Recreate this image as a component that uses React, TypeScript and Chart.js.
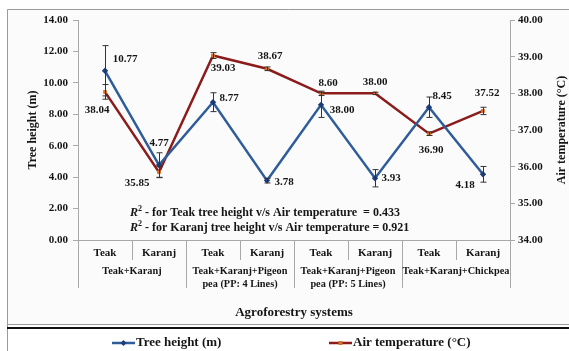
import React, { useEffect, useRef } from "react";
import { Chart, registerables } from "chart.js";

Chart.register(...registerables);

// ---- data ----
const species = ["Teak", "Karanj", "Teak", "Karanj", "Teak", "Karanj", "Teak", "Karanj"];
const systemLabels: string[][] = [
  ["Teak+Karanj"],
  ["Teak+Karanj+Pigeon", "pea (PP: 4 Lines)"],
  ["Teak+Karanj+Pigeon", "pea (PP: 5 Lines)"],
  ["Teak+Karanj+Chickpea"],
];
const treeHeight = [10.77, 4.77, 8.77, 3.78, 8.6, 3.93, 8.45, 4.18];
const treeHeightErr = [1.6, 0.78, 0.6, 0.15, 0.8, 0.55, 0.65, 0.5];
const airTemp = [38.04, 35.85, 39.03, 38.67, 38.0, 38.0, 36.9, 37.52];
const airTempErr = [0.2, 0.15, 0.08, 0.05, 0.06, 0.03, 0.05, 0.1];
const heightTicks = { min: 0, max: 14, step: 2 };
const tempTicks = { min: 34, max: 40, step: 1 };
const rSquaredTeak = 0.433;
const rSquaredKaranj = 0.921;

// label placement around each point (pixels)
const treeLabelOffsets = [[20, -12], [0, -22], [16, -4], [17, 2], [7, -22], [16, 0], [13, -11], [-18, 11]];
const tempLabelOffsets = [[-8, 18], [-22, 11], [10, 13], [3, -13], [21, 17], [0, -11], [2, 16], [4, -18]];

const SERIF = "'Liberation Serif', 'Times New Roman', serif";
const BLUE = "#2f5d99";
const BLUE_PT = "#1f3d78";
const RED = "#8c1c1c";
const RED_PT = "#d2732a";
const TEXT = "#151515";
const GRID = "#a8a8a8";

const decorPlugin = {
  id: "decor",
  beforeDraw(chart: any) {
    const { ctx, width, height } = chart;
    ctx.save();
    ctx.fillStyle = "#ffffff";
    ctx.fillRect(0, 0, width, height);
    // chart frame
    ctx.fillStyle = "#fbfbfb";
    ctx.fillRect(7, 9, width - 7, 315);
    ctx.strokeStyle = "#9a9a9a";
    ctx.lineWidth = 1;
    ctx.beginPath();
    ctx.moveTo(width, 9.5);
    ctx.lineTo(7.5, 9.5);
    ctx.lineTo(7.5, height);
    ctx.stroke();
    ctx.beginPath();
    ctx.moveTo(7, 324.5);
    ctx.lineTo(width, 324.5);
    ctx.stroke();
    // legend frame
    ctx.fillStyle = "#ffffff";
    ctx.fillRect(8, 327, width - 8, height - 327);
    ctx.strokeStyle = "#111111";
    ctx.lineWidth = 2;
    ctx.beginPath();
    ctx.moveTo(7, 328);
    ctx.lineTo(width, 328);
    ctx.stroke();
    ctx.restore();
  },
  afterDraw(chart: any) {
    const { ctx, chartArea, scales } = chart;
    const x = scales.x;
    ctx.save();
    // category dividers below the axis
    const centers = species.map((_, i) => x.getPixelForValue(i));
    const bounds: number[] = [chartArea.left];
    for (let i = 1; i < centers.length; i++) bounds.push((centers[i - 1] + centers[i]) / 2);
    bounds.push(chartArea.right);
    ctx.strokeStyle = GRID;
    ctx.lineWidth = 1;
    bounds.forEach((b, i) => {
      const bx = Math.round(b) + 0.5;
      ctx.beginPath();
      ctx.moveTo(bx, chartArea.bottom);
      ctx.lineTo(bx, i % 2 === 0 ? 288 : 260);
      ctx.stroke();
    });
    ctx.fillStyle = TEXT;
    ctx.textAlign = "center";
    ctx.textBaseline = "middle";
    ctx.font = `bold 11px ${SERIF}`;
    species.forEach((s, i) => ctx.fillText(s, centers[i], 253));
    ctx.font = `bold 10.3px ${SERIF}`;
    systemLabels.forEach((lines, g) => {
      const cx = (bounds[g * 2] + bounds[g * 2 + 2]) / 2;
      lines.forEach((ln, k) => ctx.fillText(ln, cx, 271 + k * 13.5));
    });

    // axis titles
    ctx.font = `bold 13px ${SERIF}`;
    ctx.fillText("Agroforestry systems", (chartArea.left + chartArea.right) / 2, 313);
    const midY = (chartArea.top + chartArea.bottom) / 2;
    ctx.font = `bold 12px ${SERIF}`;
    ctx.save();
    ctx.translate(33, midY);
    ctx.rotate(-Math.PI / 2);
    ctx.fillText("Tree height (m)", 0, 0);
    ctx.restore();
    ctx.save();
    ctx.translate(562, midY);
    ctx.rotate(-Math.PI / 2);
    ctx.fillText("Air temperature (°C)", 0, 0);
    ctx.restore();

    // R² notes
    const note = (y: number, txt: string) => {
      let cx = 130;
      ctx.textAlign = "left";
      ctx.font = `italic bold 12px ${SERIF}`;
      ctx.fillText("R", cx, y);
      cx += ctx.measureText("R").width;
      ctx.font = `bold 8px ${SERIF}`;
      ctx.fillText("2", cx, y - 4);
      cx += ctx.measureText("2").width;
      ctx.font = `bold 12px ${SERIF}`;
      ctx.fillText(txt, cx, y);
    };
    note(213, ` - for Teak tree height v/s Air temperature  = ${rSquaredTeak.toFixed(3)}`);
    note(228, ` - for Karanj tree height v/s Air temperature = ${rSquaredKaranj.toFixed(3)}`);

    // legend
    const legendY = 343;
    const legendItem = (x0: number, color: string, ptColor: string, diamond: boolean, label: string) => {
      ctx.strokeStyle = color;
      ctx.lineWidth = 2.5;
      ctx.beginPath();
      ctx.moveTo(x0, legendY);
      ctx.lineTo(x0 + 23, legendY);
      ctx.stroke();
      ctx.fillStyle = ptColor;
      const mx = x0 + 11.5;
      ctx.beginPath();
      if (diamond) {
        ctx.moveTo(mx, legendY - 3);
        ctx.lineTo(mx + 3, legendY);
        ctx.lineTo(mx, legendY + 3);
        ctx.lineTo(mx - 3, legendY);
      } else {
        ctx.rect(mx - 2, legendY - 2, 4, 4);
      }
      ctx.fill();
      ctx.fillStyle = TEXT;
      ctx.textAlign = "left";
      ctx.font = `bold 13px ${SERIF}`;
      ctx.fillText(label, x0 + 24, legendY);
    };
    legendItem(112, BLUE, BLUE_PT, true, "Tree height (m)");
    legendItem(329, RED, RED_PT, false, "Air temperature (°C)");
    ctx.restore();
  },
};

const errorLabelPlugin = {
  id: "errorsAndLabels",
  afterDatasetsDraw(chart: any) {
    const { ctx } = chart;
    const sets = [
      { idx: 0, vals: treeHeight, errs: treeHeightErr, offs: treeLabelOffsets, scale: chart.scales.y },
      { idx: 1, vals: airTemp, errs: airTempErr, offs: tempLabelOffsets, scale: chart.scales.y1 },
    ];
    ctx.save();
    sets.forEach((s) => {
      const meta = chart.getDatasetMeta(s.idx);
      meta.data.forEach((pt: any, i: number) => {
        const top = s.scale.getPixelForValue(s.vals[i] + s.errs[i]);
        const bot = s.scale.getPixelForValue(s.vals[i] - s.errs[i]);
        const px = Math.round(pt.x) + 0.5;
        ctx.strokeStyle = "#333333";
        ctx.lineWidth = 1;
        ctx.beginPath();
        ctx.moveTo(px, top);
        ctx.lineTo(px, bot);
        ctx.moveTo(px - 3, top);
        ctx.lineTo(px + 3, top);
        ctx.moveTo(px - 3, bot);
        ctx.lineTo(px + 3, bot);
        ctx.stroke();
      });
    });
    ctx.fillStyle = TEXT;
    ctx.font = `bold 11px ${SERIF}`;
    ctx.textAlign = "center";
    ctx.textBaseline = "middle";
    sets.forEach((s) => {
      const meta = chart.getDatasetMeta(s.idx);
      meta.data.forEach((pt: any, i: number) => {
        const [dx, dy] = s.offs[i];
        ctx.fillText(s.vals[i].toFixed(2), pt.x + dx, pt.y + dy);
      });
    });
    ctx.restore();
  },
};

export default function App() {
  const canvasRef = useRef<HTMLCanvasElement | null>(null);

  useEffect(() => {
    if (!canvasRef.current) return;
    const tickFont = { family: SERIF, size: 11, weight: "bold" as const };
    const chart = new Chart(canvasRef.current, {
      type: "line",
      data: {
        labels: species,
        datasets: [
          {
            label: "Tree height (m)",
            data: treeHeight,
            yAxisID: "y",
            borderColor: BLUE,
            borderWidth: 2.5,
            pointStyle: "rectRot",
            pointRadius: 3.2,
            pointBackgroundColor: BLUE_PT,
            pointBorderColor: BLUE_PT,
            pointBorderWidth: 0,
            tension: 0,
          },
          {
            label: "Air temperature (°C)",
            data: airTemp,
            yAxisID: "y1",
            borderColor: RED,
            borderWidth: 2.5,
            pointStyle: "rect",
            pointRadius: 2.6,
            pointBackgroundColor: RED_PT,
            pointBorderColor: RED_PT,
            pointBorderWidth: 0,
            tension: 0,
          },
        ],
      },
      options: {
        responsive: false,
        animation: false,
        events: [],
        layout: { padding: { left: 8, top: 20, right: 0, bottom: 0 } },
        plugins: { legend: { display: false }, tooltip: { enabled: false } },
        scales: {
          x: {
            offset: true,
            grid: { display: false },
            border: { color: GRID, width: 1 },
            ticks: { display: false },
            afterFit: (s: any) => {
              s.height = 111;
            },
          },
          y: {
            position: "left",
            min: heightTicks.min,
            max: heightTicks.max,
            ticks: {
              stepSize: heightTicks.step,
              font: tickFont,
              color: TEXT,
              padding: 5,
              callback: (v: any) => Number(v).toFixed(2),
            },
            grid: { drawOnChartArea: false, tickLength: 5, color: GRID },
            border: { color: GRID, width: 1 },
            afterFit: (s: any) => {
              s.width = 70;
            },
          },
          y1: {
            position: "right",
            min: tempTicks.min,
            max: tempTicks.max,
            ticks: {
              stepSize: tempTicks.step,
              font: tickFont,
              color: TEXT,
              padding: 3,
              callback: (v: any) => Number(v).toFixed(2),
            },
            grid: { drawOnChartArea: false, tickLength: 5, color: GRID },
            border: { color: GRID, width: 1 },
            afterFit: (s: any) => {
              s.width = 59;
            },
          },
        },
      },
      plugins: [decorPlugin, errorLabelPlugin],
    });
    return () => chart.destroy();
  }, []);

  return (
    <div style={{ position: "fixed", left: 0, top: 0, width: 569, height: 351 }}>
      <canvas ref={canvasRef} width={569} height={351} />
    </div>
  );
}
